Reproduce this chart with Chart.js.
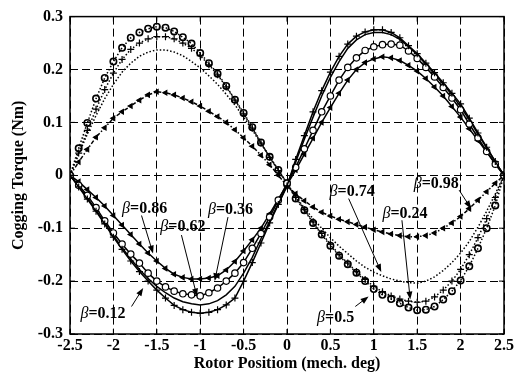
<!DOCTYPE html>
<html>
<head>
<meta charset="utf-8">
<script src="https://cdn.jsdelivr.net/npm/chart.js@4/dist/chart.umd.min.js"></script>
<style>
  html, body { margin: 0; padding: 0; background: #fff; }
  #wrap { width: 516px; height: 374px; }
</style>
</head>
<body>
<div id="wrap"><canvas id="myChart" width="516" height="374"></canvas></div>
<script>
// rotor position (mech. deg)
var posiciones = [-2.5, -2.4, -2.3, -2.2, -2.1, -2.0, -1.9, -1.8, -1.7, -1.6, -1.5, -1.4, -1.3, -1.2, -1.1,
  -1.0, -0.9, -0.8, -0.7, -0.6, -0.5, -0.4, -0.3, -0.2, -0.1, 0.0, 0.1, 0.2, 0.3, 0.4, 0.5, 0.6, 0.7,
  0.8, 0.9, 1.0, 1.1, 1.2, 1.3, 1.4, 1.5, 1.6, 1.7, 1.8, 1.9, 2.0, 2.1, 2.2, 2.3, 2.4, 2.5];

// cogging torque (Nm) for each beta
var beta012 = [0, -0.022, -0.045, -0.068, -0.092, -0.117, -0.14, -0.162, -0.182, -0.2, -0.217, -0.232, -0.246,
  -0.254, -0.259, -0.261, -0.259, -0.254, -0.245, -0.232, -0.2, -0.165, -0.128, -0.09, -0.055, -0.02,
  0.03, 0.075, 0.12, 0.16, 0.195, 0.225, 0.248, 0.263, 0.271, 0.275, 0.275, 0.27, 0.26, 0.245, 0.23,
  0.212, 0.194, 0.175, 0.155, 0.135, 0.108, 0.08, 0.053, 0.026, 0];
var beta036 = [0, -0.019, -0.038, -0.061, -0.086, -0.109, -0.13, -0.149, -0.166, -0.185, -0.2, -0.211, -0.219,
  -0.224, -0.226, -0.228, -0.222, -0.213, -0.2, -0.185, -0.165, -0.138, -0.11, -0.079, -0.047, -0.015,
  0.015, 0.05, 0.085, 0.12, 0.15, 0.18, 0.204, 0.222, 0.236, 0.243, 0.247, 0.248, 0.246, 0.235, 0.221,
  0.204, 0.186, 0.166, 0.146, 0.124, 0.097, 0.071, 0.045, 0.021, 0];
var beta062 = [0, -0.021, -0.043, -0.066, -0.09, -0.114, -0.137, -0.158, -0.178, -0.195, -0.21, -0.222, -0.232,
  -0.239, -0.243, -0.245, -0.243, -0.237, -0.226, -0.21, -0.185, -0.155, -0.12, -0.087, -0.053, -0.02,
  0.025, 0.068, 0.11, 0.15, 0.185, 0.215, 0.24, 0.256, 0.266, 0.27, 0.27, 0.266, 0.257, 0.243, 0.228,
  0.21, 0.191, 0.172, 0.152, 0.13, 0.105, 0.078, 0.052, 0.026, 0];
var beta086 = [0, -0.012, -0.027, -0.042, -0.058, -0.076, -0.094, -0.112, -0.13, -0.147, -0.162, -0.176, -0.187,
  -0.193, -0.196, -0.196, -0.194, -0.19, -0.179, -0.163, -0.143, -0.122, -0.1, -0.073, -0.045, -0.018,
  0.01, 0.04, 0.07, 0.1, 0.128, 0.155, 0.18, 0.2, 0.213, 0.22, 0.224, 0.222, 0.217, 0.208, 0.197,
  0.183, 0.167, 0.15, 0.13, 0.11, 0.088, 0.066, 0.044, 0.022, 0];
var beta024 = [0, 0.042, 0.085, 0.125, 0.162, 0.193, 0.219, 0.238, 0.25, 0.258, 0.262, 0.262, 0.258, 0.25,
  0.24, 0.226, 0.209, 0.19, 0.167, 0.142, 0.116, 0.089, 0.061, 0.034, 0.009, -0.015,
  -0.042, -0.065, -0.088, -0.11, -0.13, -0.15, -0.166, -0.182, -0.197, -0.21, -0.22, -0.228, -0.234,
  -0.238, -0.24, -0.238, -0.23, -0.217, -0.2, -0.178, -0.15, -0.118, -0.082, -0.042, 0];
var beta05 = [0, 0.051, 0.099, 0.145, 0.184, 0.215, 0.241, 0.26, 0.27, 0.277, 0.281, 0.279, 0.272, 0.261,
  0.249, 0.231, 0.212, 0.192, 0.169, 0.143, 0.118, 0.091, 0.062, 0.035, 0.01, -0.015,
  -0.044, -0.066, -0.09, -0.112, -0.133, -0.152, -0.168, -0.184, -0.2, -0.215, -0.226, -0.234, -0.242,
  -0.25, -0.255, -0.254, -0.248, -0.235, -0.219, -0.199, -0.172, -0.138, -0.1, -0.057, 0];
var beta074 = [0, 0.04, 0.078, 0.113, 0.145, 0.172, 0.195, 0.212, 0.225, 0.233, 0.237, 0.237, 0.233, 0.226,
  0.215, 0.203, 0.188, 0.172, 0.153, 0.133, 0.11, 0.086, 0.06, 0.035, 0.01, -0.015,
  -0.04, -0.062, -0.082, -0.1, -0.118, -0.134, -0.148, -0.162, -0.174, -0.183, -0.19, -0.196, -0.2,
  -0.203, -0.204, -0.2, -0.192, -0.18, -0.165, -0.147, -0.125, -0.098, -0.068, -0.035, 0];
var beta098 = [0, 0.025, 0.049, 0.072, 0.09, 0.108, 0.12, 0.131, 0.142, 0.152, 0.158, 0.156, 0.152, 0.146,
  0.139, 0.131, 0.121, 0.111, 0.1, 0.086, 0.071, 0.055, 0.038, 0.02, 0.0, -0.02,
  -0.035, -0.048, -0.06, -0.07, -0.077, -0.083, -0.088, -0.093, -0.098, -0.103, -0.107, -0.111, -0.114,
  -0.116, -0.116, -0.114, -0.109, -0.1, -0.09, -0.078, -0.063, -0.047, -0.031, -0.015, 0];

var xTickLabels = ['-2.5', '-2', '-1.5', '-1', '-0.5', '0', '0.5', '1', '1.5', '2', '2.5'];
var yTickLabels = ['-0.3', '-0.2', '-0.1', '0', '0.1', '0.2', '0.3'];
var xTitle = 'Rotor Positiom (mech. deg)';
var yTitle = 'Cogging Torque (Nm)';

// callouts: label text, label centre, arrow tail, arrow head (data units)
var notas = [
  { txt: '0.86', cx: -1.64, cy: -0.064, x0: -1.676, y0: -0.076, x1: -1.543, y1: -0.148 },
  { txt: '0.62', cx: -1.20, cy: -0.098, x0: -1.216, y0: -0.113, x1: -1.037, y1: -0.229 },
  { txt: '0.36', cx: -0.65, cy: -0.066, x0: -0.680, y0: -0.079, x1: -0.833, y1: -0.200 },
  { txt: '0.12', cx: -2.12, cy: -0.261, x0: -1.791, y0: -0.248, x1: -1.657, y1: -0.213 },
  { txt: '0.74', cx: 0.75, cy: -0.032, x0: 0.710, y0: -0.044, x1: 1.086, y1: -0.183 },
  { txt: '0.24', cx: 1.36, cy: -0.073, x0: 1.324, y0: -0.085, x1: 1.420, y1: -0.235 },
  { txt: '0.98', cx: 1.72, cy: -0.017, x0: 1.983, y0: -0.028, x1: 2.121, y1: -0.063 },
  { txt: '0.5', cx: 0.56, cy: -0.270, x0: 0.787, y0: -0.248, x1: 0.940, y1: -0.229 }
];

var serif = "'Liberation Serif', 'Times New Roman', serif";

function puntos(valores) {
  return posiciones.map(function (x, i) { return { x: x, y: valores[i] }; });
}

function serie(nombre, valores, estilo) {
  var d = {
    label: nombre,
    data: puntos(valores),
    borderColor: '#000',
    backgroundColor: '#000',
    borderWidth: 1.5,
    pointBorderColor: '#000',
    pointBorderWidth: 1.2,
    pointRadius: 0,
    tension: 0
  };
  for (var k in estilo) d[k] = estilo[k];
  return d;
}

var punteado = [1.5, 2];
var datasets = [
  serie('0.12', beta012, { pointStyle: 'cross', pointRadius: 3.5 }),
  serie('0.36', beta036, { pointStyle: 'circle', pointRadius: 3.2, pointBackgroundColor: '#fff' }),
  serie('0.62', beta062, {}),
  serie('0.86', beta086, { pointStyle: 'triangle', pointRotation: 270, pointRadius: 2.6 }),
  serie('0.24', beta024, { borderDash: punteado, pointStyle: 'cross', pointRadius: 3.5 }),
  serie('0.5', beta05, { borderDash: punteado, pointStyle: 'circle', pointRadius: 3.2, pointBackgroundColor: 'rgba(0,0,0,0)', pointBorderWidth: 1.6 }),
  serie('0.74', beta074, { borderDash: punteado }),
  serie('0.98', beta098, { borderDash: [4, 2, 1.5, 2], pointStyle: 'triangle', pointRotation: 270, pointRadius: 2.6 })
];

function flecha(ctx, ax, ay, bx, by) {
  var ang = Math.atan2(by - ay, bx - ax);
  var L = 8, W = 3;
  ctx.beginPath();
  ctx.moveTo(ax, ay);
  ctx.lineTo(bx - Math.cos(ang) * L * 0.8, by - Math.sin(ang) * L * 0.8);
  ctx.stroke();
  ctx.beginPath();
  ctx.moveTo(bx, by);
  ctx.lineTo(bx - Math.cos(ang) * L - Math.sin(ang) * W, by - Math.sin(ang) * L + Math.cos(ang) * W);
  ctx.lineTo(bx - Math.cos(ang) * L + Math.sin(ang) * W, by - Math.sin(ang) * L - Math.cos(ang) * W);
  ctx.closePath();
  ctx.fill();
}

var extras = {
  id: 'extras',
  afterDatasetsDraw: function (chart) {
    var ctx = chart.ctx, xs = chart.scales.x, ys = chart.scales.y, a = chart.chartArea;
    ctx.save();
    // inner tick marks and frame
    ctx.strokeStyle = '#000';
    ctx.lineWidth = 1;
    ctx.setLineDash([]);
    xs.ticks.forEach(function (t) {
      var px = xs.getPixelForValue(t.value);
      ctx.beginPath();
      ctx.moveTo(px, a.bottom); ctx.lineTo(px, a.bottom - 5);
      ctx.moveTo(px, a.top); ctx.lineTo(px, a.top + 5);
      ctx.stroke();
    });
    ys.ticks.forEach(function (t) {
      var py = ys.getPixelForValue(t.value);
      ctx.beginPath();
      ctx.moveTo(a.left, py); ctx.lineTo(a.left + 5, py);
      ctx.moveTo(a.right, py); ctx.lineTo(a.right - 5, py);
      ctx.stroke();
    });
    ctx.lineWidth = 1.5;
    ctx.strokeRect(a.left, a.top, a.right - a.left, a.bottom - a.top);

    // callouts
    ctx.fillStyle = '#000';
    ctx.lineWidth = 1;
    notas.forEach(function (n) {
      var cx = xs.getPixelForValue(n.cx), cy = ys.getPixelForValue(n.cy);
      ctx.font = 'italic 16px ' + serif;
      var wb = ctx.measureText('\u03b2').width;
      ctx.font = 'bold 16px ' + serif;
      var rest = '=' + n.txt;
      var wr = ctx.measureText(rest).width;
      var x = cx - (wb + wr) / 2;
      ctx.textBaseline = 'middle';
      ctx.textAlign = 'left';
      ctx.font = 'italic 16px ' + serif;
      ctx.fillText('\u03b2', x, cy);
      ctx.font = 'bold 16px ' + serif;
      ctx.fillText(rest, x + wb, cy);
      flecha(ctx, xs.getPixelForValue(n.x0), ys.getPixelForValue(n.y0),
        xs.getPixelForValue(n.x1), ys.getPixelForValue(n.y1));
    });
    ctx.restore();
  }
};

var ctx = document.getElementById('myChart').getContext('2d');
var chart = new Chart(ctx, {
  type: 'line',
  data: { datasets: datasets },
  options: {
    responsive: false,
    animation: false,
    layout: { padding: { top: 13, right: 11, left: 0, bottom: 0 } },
    plugins: { legend: { display: false }, tooltip: { enabled: false } },
    scales: {
      x: {
        type: 'linear',
        min: -2.5,
        max: 2.5,
        afterFit: function (s) { s.height = 40; },
        ticks: {
          stepSize: 0.5,
          padding: 2,
          maxRotation: 0,
          color: '#000',
          font: { family: serif, size: 16, weight: 'bold' },
          callback: function (v, i) { return xTickLabels[i]; }
        },
        grid: { color: '#000', lineWidth: 1, drawTicks: false },
        border: { display: false, dash: [8, 4] },
        title: {
          display: true,
          text: xTitle,
          color: '#000',
          font: { family: serif, size: 16, weight: 'bold' },
          padding: { top: 0, bottom: 1 }
        }
      },
      y: {
        min: -0.3,
        max: 0.3,
        afterFit: function (s) { s.width = 70; },
        ticks: {
          stepSize: 0.1,
          padding: 7,
          color: '#000',
          font: { family: serif, size: 16, weight: 'bold' },
          callback: function (v, i) { return yTickLabels[i]; }
        },
        grid: { color: '#000', lineWidth: 1, drawTicks: false },
        border: { display: false, dash: [8, 4] },
        title: {
          display: true,
          text: yTitle,
          color: '#000',
          font: { family: serif, size: 16, weight: 'bold' },
          padding: { top: 9, bottom: 0 }
        }
      }
    }
  },
  plugins: [extras]
});
</script>
</body>
</html>
